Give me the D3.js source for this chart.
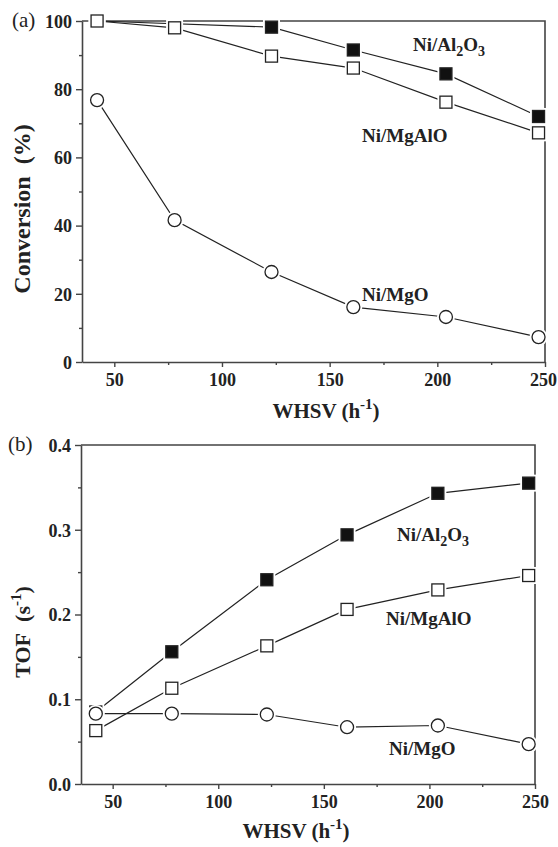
<!DOCTYPE html>
<html>
<head>
<meta charset="utf-8">
<script src="https://cdn.jsdelivr.net/npm/d3@7"></script>
<style>
  body { margin: 0; background: #fff; }
  text { font-family: "Liberation Serif", "Times New Roman", serif; font-weight: bold; fill: #222; }
</style>
</head>
<body>
<svg id="chart" width="558" height="847"></svg>
<script>
// WHSV values (h^-1), shared by both panels
const whsv = [42, 78, 123, 161, 204, 247];

// (a) conversion (%)
const convAl = [100, null, 98.2, 91.5, 84.5, 72];
const convMgAl = [100, 98, 89.7, 86.2, 76.2, 67.2];
const convMg = [76.8, 41.6, 26.4, 16.1, 13.2, 7.3];

// (b) TOF (s^-1)
const tofAl = [0.085, 0.156, 0.241, 0.294, 0.343, 0.355];
const tofMgAl = [0.063, 0.113, 0.163, 0.206, 0.229, 0.246];
const tofMg = [0.083, 0.083, 0.082, 0.067, 0.069, 0.047];

const xTicks = [50, 100, 150, 200, 250];
const convTicks = [0, 20, 40, 60, 80, 100];
const tofTicks = [0, 0.1, 0.2, 0.3, 0.4];

const svg = d3.select("#chart");
const axisColor = "#444";

function addRich(textSel, parts, shift, small) {
    parts.forEach(part => {
        const ts = textSel.append("tspan").text(part.t);
        if (part.sub) ts.attr("dy", shift).style("font-size", small);
        if (part.sup) ts.attr("dy", -shift).style("font-size", small);
        if (part.back) ts.attr("dy", part.back);
    });
}

function drawPanel(p) {
    const x = d3.scaleLinear().domain([35, 250]).range([p.left, p.right]);
    const y = d3.scaleLinear().domain(p.yDomain).range([p.bottom, p.top]);
    const g = svg.append("g");

    // minor ticks
    const xMinor = d3.range(75, 250, 50);
    g.append("g")
        .attr("transform", `translate(0,${p.bottom})`)
        .call(d3.axisBottom(x).tickValues(xMinor).tickSize(3).tickFormat(""))
        .call(a => a.select(".domain").remove());
    g.append("g")
        .attr("transform", `translate(${p.left},0)`)
        .call(d3.axisLeft(y).tickValues(p.yMinor).tickSize(3).tickFormat(""))
        .call(a => a.select(".domain").remove());

    // major axes
    const xa = g.append("g")
        .attr("transform", `translate(0,${p.bottom})`)
        .call(d3.axisBottom(x).tickValues(xTicks).tickSize(5).tickSizeOuter(0).tickPadding(4));
    const ya = g.append("g")
        .attr("transform", `translate(${p.left},0)`)
        .call(d3.axisLeft(y).tickValues(p.yTicks).tickSize(6).tickSizeOuter(0).tickPadding(4)
            .tickFormat(p.yFormat));
    [xa, ya].forEach(a => {
        a.selectAll("text").style("font-size", "18px").attr("fill", "#222")
            .style("font-family", "'Liberation Serif', serif").style("font-weight", "bold");
    });
    xa.selectAll("text").attr("dy", "0.85em");
    // keep the last label inside the page
    xa.selectAll(".tick").filter(d => d === 250).select("text").attr("dx", p.lastDx || 0);
    ya.selectAll("text").attr("dy", "0.35em");
    g.selectAll(".tick line").attr("stroke", axisColor).attr("stroke-width", 1.4);
    g.selectAll(".domain").attr("stroke", axisColor).attr("stroke-width", 1.6);

    // frame top and right
    g.append("path")
        .attr("d", `M${p.left},${p.top}H${p.right}V${p.bottom}`)
        .attr("fill", "none").attr("stroke", axisColor).attr("stroke-width", 1.6);

    const line = d3.line().x(d => x(d[0])).y(d => y(d[1]));

    const seriesPts = p.series.map(s =>
        whsv.map((w, i) => [w, s.values[i]]).filter(d => d[1] != null));

    seriesPts.forEach(pts => {
        g.append("path").datum(pts)
            .attr("d", line).attr("fill", "none")
            .attr("stroke", "#222").attr("stroke-width", 1.2);
    });
    p.series.forEach((s, k) => {
        const pts = seriesPts[k];
        const mk = g.append("g");
        // white halo then the marker itself
        [{stroke: "#fff", w: 5}, {stroke: "#222", w: 1.3}].forEach(st => {
            if (s.shape === "circle") {
                mk.append("g").selectAll("circle").data(pts).join("circle")
                    .attr("cx", d => x(d[0])).attr("cy", d => y(d[1])).attr("r", 6.5)
                    .attr("fill", "#fff").attr("stroke", st.stroke).attr("stroke-width", st.w);
            } else {
                mk.append("g").selectAll("rect").data(pts).join("rect")
                    .attr("x", d => x(d[0]) - 6).attr("y", d => y(d[1]) - 6)
                    .attr("width", 12).attr("height", 12)
                    .attr("fill", s.filled ? "#111" : "#fff")
                    .attr("stroke", st.stroke).attr("stroke-width", st.w);
            }
        });
    });

    // series labels
    p.labels.forEach(l => {
        const t = g.append("text").attr("x", l.x).attr("y", l.y).style("font-size", "19px");
        addRich(t, l.parts, 5, "14px");
    });

    // panel letter
    g.append("text").attr("x", p.letterX).attr("y", p.top + 6)
        .style("font-weight", "normal").style("font-size", "21px").text(p.letter);

    // y title
    const yt = g.append("text")
        .attr("transform", `translate(${p.yTitleX},${p.yTitleY}) rotate(-90)`)
        .attr("text-anchor", "middle").style("font-size", p.yTitleSize);
    addRich(yt, p.yTitle, 9, "15px");

    // x title
    const xt = g.append("text")
        .attr("x", p.xTitleX).attr("y", p.xTitleY)
        .attr("text-anchor", "middle").style("font-size", "21px");
    addRich(xt, [{t: "WHSV (h"}, {t: "-1", sup: true}, {t: ")", back: 9}], 9, "15px");
}

const al2o3 = [{t: "Ni/Al"}, {t: "2", sub: true}, {t: "O", back: -5}, {t: "3", sub: true}];
const mgalo = [{t: "Ni/MgAlO"}];
const mgo = [{t: "Ni/MgO"}];

drawPanel({
    left: 82, right: 545, top: 21, bottom: 362,
    yDomain: [0, 100], yTicks: convTicks, yMinor: [10, 30, 50, 70, 90],
    yFormat: d3.format("d"),
    series: [
        {values: convAl, shape: "square", filled: true},
        {values: convMgAl, shape: "square", filled: false},
        {values: convMg, shape: "circle"}
    ],
    labels: [
        {x: 413, y: 51, parts: al2o3},
        {x: 362, y: 142, parts: mgalo},
        {x: 362, y: 301, parts: mgo}
    ],
    letter: "(a)", letterX: 12,
    yTitle: [{t: "Conversion\u2002(%)"}], yTitleX: 30, yTitleY: 209, yTitleSize: "24px",
    xTitleX: 326, xTitleY: 418, lastDx: -2
});

drawPanel({
    left: 81, right: 535, top: 445, bottom: 784,
    yDomain: [0, 0.4], yTicks: tofTicks, yMinor: [0.05, 0.15, 0.25, 0.35],
    yFormat: d3.format(".1f"),
    series: [
        {values: tofAl, shape: "square", filled: true},
        {values: tofMgAl, shape: "square", filled: false},
        {values: tofMg, shape: "circle"}
    ],
    labels: [
        {x: 397, y: 541, parts: al2o3},
        {x: 386, y: 625, parts: mgalo},
        {x: 389, y: 755, parts: mgo}
    ],
    letter: "(b)", letterX: 8,
    yTitle: [{t: "TOF\u2002(s"}, {t: "-1", sup: true}, {t: ")", back: 9}],
    yTitleX: 30, yTitleY: 632, yTitleSize: "22px",
    xTitleX: 296, xTitleY: 838
});
</script>
</body>
</html>
